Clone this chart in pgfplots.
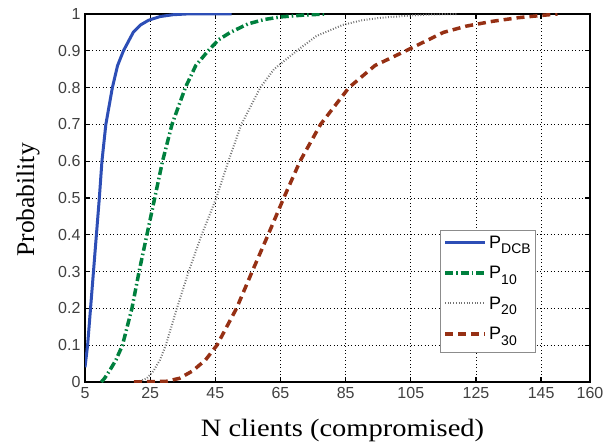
\documentclass[border=0pt]{standalone}
\usepackage{pgfplots}
\pgfplotsset{compat=1.18}
\usepackage{fontspec}
\setmainfont{Liberation Serif}
\setsansfont{Liberation Sans}

\definecolor{cdcb}{RGB}{45,78,182}
\definecolor{cten}{RGB}{0,128,62}
\definecolor{ctwenty}{RGB}{115,115,115}
\definecolor{cthirty}{RGB}{150,48,20}

\newcommand{\Psub}[1]{P\raisebox{-0.55ex}{\fontsize{14}{14}\selectfont #1}}

\begin{document}
\begin{tikzpicture}
\begin{axis}[
    scale only axis,
    width=505pt, height=368pt,
    xmin=5, xmax=160,
    ymin=0, ymax=1,
    xtick={5,25,45,65,85,105,125,145,160},
    ytick={0,0.1,0.2,0.3,0.4,0.5,0.6,0.7,0.8,0.9,1},
    grid=major,
    major grid style={black, line width=0.9pt, dash pattern=on 0.9pt off 2.6pt},
    axis line style={line width=1.9pt},
    tick align=inside,
    major tick length=5pt,
    tick style={black, line width=1.3pt},
    ticklabel style={font=\fontsize{16}{16}\selectfont\sffamily, text=black!75},
    xticklabel style={yshift=-2pt},
    yticklabel style={xshift=-1pt},
    /pgf/number format/assume math mode=true,
    xlabel={\scalebox{1.14}[1]{N clients (compromised)}},
    ylabel={Probability},
    xlabel style={font=\fontsize{25}{25}\selectfont,
        at={(axis description cs:0.51,-0.149)}, anchor=base},
    ylabel style={font=\fontsize{25.5}{25.5}\selectfont,
        at={(axis description cs:-0.113,0.495)}, anchor=center},
    legend style={at={(0.703,0.413)}, anchor=north west, draw=black!45,
        line width=0.6pt, font=\fontsize{18}{18}\selectfont\sffamily,
        nodes={inner sep=2pt, text height=13pt, text depth=7pt},
        row sep=6.5pt, inner xsep=3pt, inner ysep=3pt},
    legend cell align=left,
    legend image code/.code={\draw[#1] (0cm,0.1cm) -- (1.42cm,0.1cm);},
]
\addplot[cdcb, line width=3pt] coordinates {
    (5,0.04)(5.8,0.1)(6.7,0.2)(7.6,0.3)(8.5,0.4)(9.4,0.5)(10.2,0.6)(11.4,0.7)
    (13.4,0.8)(15,0.86)(16.8,0.9)(19.8,0.95)(22,0.97)(24.5,0.983)(28,0.993)
    (32,0.998)(36,1)(50,1)
};
\addlegendentry{\Psub{DCB}}
\addplot[cten, line width=3.5pt, dash pattern=on 8pt off 3pt on 1.5pt off 3pt] coordinates {
    (10,0)(11,0.01)(12.5,0.03)(14.5,0.06)(16.5,0.1)(19.4,0.2)(21.6,0.3)(24,0.4)
    (26.4,0.5)(28.8,0.6)(31.7,0.7)(35.8,0.8)(39,0.86)(42.8,0.9)(46,0.93)
    (49.6,0.95)(55,0.973)(60,0.985)(65,0.992)(72,0.997)(79,1)
};
\addlegendentry{\Psub{10}}
\addplot[ctwenty, line width=2pt, dash pattern=on 0.9pt off 1.8pt] coordinates {
    (21,0)(24,0.01)(26,0.03)(28,0.06)(29.8,0.1)(33.2,0.2)(36.8,0.3)(40.8,0.4)
    (45.3,0.5)(49,0.6)(53,0.7)(58.8,0.8)(63,0.85)(70,0.9)(76,0.94)(84,0.97)
    (90,0.983)(96,0.99)(105,0.996)(112,0.999)(119,1)
};
\addlegendentry{\Psub{20}}
\addplot[cthirty, line width=3.5pt, dash pattern=on 8pt off 5pt] coordinates {
    (20,0)(30,0.002)(34,0.01)(38,0.03)(42,0.06)(45.5,0.1)(51.5,0.2)(56.3,0.3)
    (61.2,0.4)(66,0.5)(71,0.6)(77.3,0.7)(86,0.8)(94,0.86)(103.5,0.9)(115,0.95)
    (122,0.967)(130,0.98)(138,0.99)(145,0.996)(150,1)
};
\addlegendentry{\Psub{30}}
\coordinate (bl) at (rel axis cs:0,0);
\coordinate (tr) at (rel axis cs:1,1);
\end{axis}
\pgfresetboundingbox
\path ([shift={(-85pt,-63pt)}]bl) rectangle ([shift={(24pt,14pt)}]tr);
\end{tikzpicture}
\end{document}
